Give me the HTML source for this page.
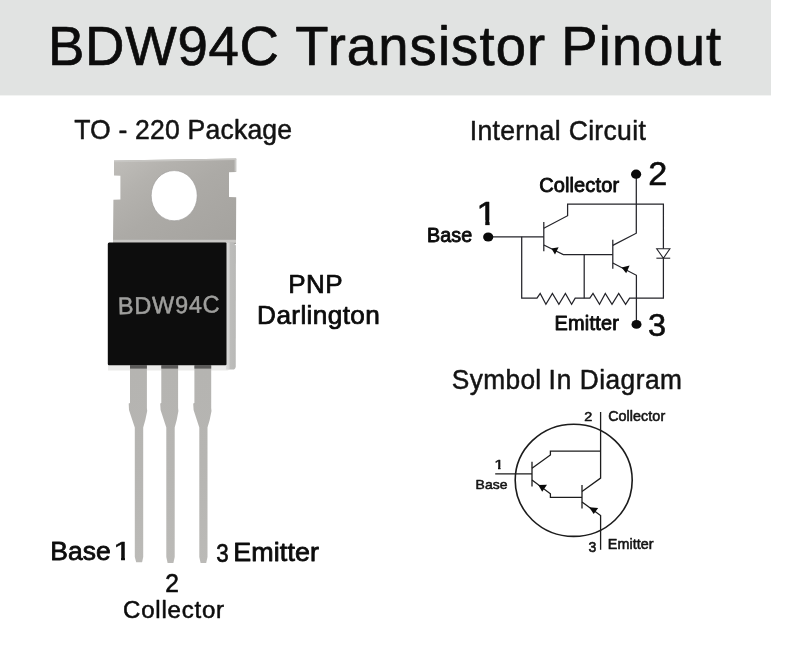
<!DOCTYPE html>
<html lang="en">
<head>
<meta charset="utf-8">
<title>BDW94C Transistor Pinout</title>
<style>
html,body{margin:0;padding:0;background:#ffffff;}
body{width:800px;height:663px;overflow:hidden;font-family:"Liberation Sans",Arial,Helvetica,sans-serif;}
svg{display:block;}
svg text{font-family:"Liberation Sans",Arial,Helvetica,sans-serif;}
</style>
</head>
<body>
<svg width="800" height="663" viewBox="0 0 800 663">
<defs>
<linearGradient id="metal" x1="0" y1="0" x2="1" y2="1">
<stop offset="0" stop-color="#c0beba"/>
<stop offset="0.25" stop-color="#b4b2ae"/>
<stop offset="0.5" stop-color="#acaaa6"/>
<stop offset="1" stop-color="#a4a29e"/>
</linearGradient>
<linearGradient id="pin" x1="0" y1="0" x2="0" y2="1">
<stop offset="0" stop-color="#b5b4b1"/>
<stop offset="0.5" stop-color="#b6b5b2"/>
<stop offset="1" stop-color="#bbbab7"/>
</linearGradient>
<linearGradient id="strip" x1="0" y1="0" x2="1" y2="0">
<stop offset="0" stop-color="#dcdcdb"/>
<stop offset="0.3" stop-color="#d2d2d1"/>
<stop offset="0.42" stop-color="#bdbdbb"/>
<stop offset="0.9" stop-color="#b9b9b7"/>
<stop offset="1" stop-color="#c4c4c2"/>
</linearGradient>
</defs>
<rect x="0" y="0" width="800" height="663" fill="#ffffff"/>
<rect id="header" x="0" y="0" width="771" height="95.4" fill="#e1e3e2"/>

<g id="package">
<!-- metal tab -->
<path d="M114 160.6 L236.2 158.5 L236.2 171.9 L229 172.3 L229 196.9 L236.2 197.3 L236 244 L113 244 L113.4 199.8 L120.4 199.4 L120.4 175.7 L114 175.4 Z" fill="url(#metal)"/>
<path d="M114 160.6 L236.2 158.5 L236.2 160.1 L114 162.2 Z" fill="#c6c5c2"/>
<rect x="113" y="239.8" width="123" height="3" fill="#c9c8c5"/>
<rect x="234.6" y="159" width="1.6" height="12.6" fill="#c9c8c5"/>
<ellipse cx="174.2" cy="195.7" rx="23" ry="25.1" fill="#ffffff" stroke="#979693" stroke-width="0.6"/>
<!-- back plate: right strip and bottom strip -->
<path d="M108 362 H230 V368 Q230 370.4 227.6 370.4 H108 Z" fill="#ebebea"/>
<path d="M226 242.4 L233 242.4 L236 245.4 L235.8 366.4 Q235.6 369.4 232.6 369.6 L226 369.6 Z" fill="url(#strip)"/>
<!-- body -->
<path d="M109.2 242.4 H225.4 Q226.5 242.4 226.5 243.6 V364 Q226.5 365.2 225.4 365.2 H109 Q107.8 365.2 107.8 364 V244 Q107.8 242.4 109.2 242.4 Z" fill="#0d0d0d"/>
<!-- pins -->
<path d="M130 365.6 L146.9 365.6 L146.9 408 L147.2 411 Q145.6 420 143.2 427.5 L143.2 557 L142.1 562.2 L136.2 562.2 L134.8 557 L134.8 427.5 Q131.6 418 129 410 L128.7 403.5 L130 403 Z" fill="url(#pin)"/>
<path d="M161.3 365.6 L178.1 365.6 L178.1 408 L178.4 411 Q177 420 174.7 427.5 L174.7 557 L173.4 563 L167.6 563 L166.3 557 L166.3 427.5 Q163.2 418 160.6 410 L160.2 403.5 L161.3 403 Z" fill="url(#pin)"/>
<path d="M194.4 365.6 L211.2 365.6 L211.2 408 L211.5 411 Q210 420 207.5 427.5 L207.5 557 L206.2 563 L200.6 563 L199.3 557 L199.3 427.5 Q196.2 418 193.6 410 L193.2 403.5 L194.4 403 Z" fill="url(#pin)"/>
<!-- pin root shadows -->
<rect x="130" y="365" width="16.9" height="3.6" fill="#5c5b5a"/>
<rect x="161.3" y="365" width="16.8" height="3.6" fill="#5c5b5a"/>
<rect x="194.4" y="365" width="16.8" height="3.6" fill="#5c5b5a"/>
</g>

<g id="circuit" fill="none" stroke="#24242a" stroke-width="1.25" stroke-linejoin="miter">
<path d="M488 236.8 H543.8"/>
<path d="M521.7 236.8 V298.2 H537 L540.2 293.4 L545.9 304.3 L552.4 293.4 L558.9 304.3 L565.4 293.4 L571.6 304.3 L575.2 298.2 H589.8 L593 293.4 L599.5 304.3 L605.3 293.4 L612 304.3 L618.7 293.4 L625.6 304.3 L629.6 298.2 H663.4 V258.2"/>
<path d="M663.4 248.7 V204.2 H567.6 V215.7 L543.8 228.2"/>
<path d="M543.8 222 V251.3"/>
<path d="M543.8 245 L563.3 254.6 H612.8"/>
<path d="M584.2 254.6 V298.2"/>
<path d="M612.8 239.7 V268.8"/>
<path d="M612.8 245.4 L636.3 233.2 V174"/>
<path d="M612.8 263 L636.4 275.3 V324"/>
<!-- diode -->
<path d="M656.7 248.7 H669.9 L663.4 258.2 Z" stroke-width="1.1"/>
<path d="M656.4 258.2 H670.2" stroke-width="1.1"/>
</g>
<g id="circuit-fill" fill="#0a0a0a">
<ellipse cx="488.2" cy="237" rx="5.1" ry="4.5"/>
<ellipse cx="636.1" cy="174.2" rx="5.1" ry="4.6"/>
<ellipse cx="636.5" cy="324.4" rx="5" ry="4.4"/>
<path d="M551.4 248.6 L558.6 247.2 L555 254.6 Z"/>
<path d="M621.6 267.6 L629.6 265.4 L626.2 273.2 Z"/>
</g>

<g id="symbol" fill="none" stroke="#1c1c1c" stroke-width="1.3">
<ellipse cx="573.7" cy="480.3" rx="58.5" ry="56.1" stroke-width="1.6"/>
<path d="M495.2 473.9 H532"/>
<path d="M532 461.8 V486.4"/>
<path d="M532 468.2 L550.4 455 V451.1 H600.6"/>
<path d="M600.6 412 V478.1 L582 491.5"/>
<path d="M582 485 V508.6"/>
<path d="M532 480 L550.4 493.8 V497.3 H582"/>
<path d="M582 501.9 L600.6 515.6 V549.8"/>
</g>
<g id="symbol-fill" fill="#0a0a0a">
<path d="M538.3 485 L547 484.7 L542.2 491.7 Z"/>
<path d="M589.2 507.3 L598.2 508 L593.7 514 Z"/>
</g>

<g id="labels" style="will-change:opacity;opacity:0.999">
<defs><clipPath id="clip-b1"><rect x="85.93" y="534.40" width="26.00" height="22.60"/><rect x="93.11" y="556.50" width="3.01" height="4.60"/></clipPath><clipPath id="clip-c1"><rect x="413.22" y="192.20" width="32.60" height="27.80"/><rect x="421.98" y="219.50" width="3.75" height="6.08"/></clipPath><clipPath id="clip-s1"><rect x="394.38" y="455.90" width="13.60" height="11.10"/><rect x="398.39" y="466.50" width="2.01" height="3.75"/></clipPath></defs>
<g id="t-title" font-weight="normal" fill="#0c0c0c" stroke="#0c0c0c" stroke-width="0.7" stroke-linejoin="round"><text transform="scale(0.9750 1)" x="49.28" y="64.70" font-size="56.00" letter-spacing="0.692">BDW94C</text><text transform="scale(0.9750 1)" x="302.90" y="64.70" font-size="55.80" letter-spacing="1.142">Transistor</text><text transform="scale(0.9750 1)" x="575.76" y="64.70" font-size="55.80" letter-spacing="1.147">Pinout</text></g>
<g id="t-pkg" font-weight="normal" fill="#141414" stroke="#141414" stroke-width="0.5" stroke-linejoin="round"><text transform="scale(0.9850 1)" x="75.28" y="139.00" font-size="27.00" letter-spacing="0.186">TO - 220 Package</text></g>
<g id="t-ic" font-weight="normal" fill="#141414" stroke="#141414" stroke-width="0.5" stroke-linejoin="round"><text transform="scale(0.9850 1)" x="476.94" y="139.60" font-size="27.00" letter-spacing="0.317">Internal Circuit</text></g>
<g id="t-sym" font-weight="normal" fill="#141414" stroke="#141414" stroke-width="0.5" stroke-linejoin="round"><text transform="scale(0.9850 1)" x="458.75" y="389.40" font-size="26.70" letter-spacing="0.335">Symbol</text><text transform="scale(0.9850 1)" x="556.97" y="389.40" font-size="26.70" letter-spacing="0.929">In</text><text transform="scale(0.9850 1)" x="588.51" y="389.40" font-size="26.70" letter-spacing="0.479">Diagram</text></g>
<g id="t-pnp" font-weight="normal" fill="#0c0c0c" stroke="#0c0c0c" stroke-width="0.7" stroke-linejoin="round"><text transform="scale(1.0418 1)" x="276.64" y="293.00" font-size="25.00" letter-spacing="0.413">PNP</text></g>
<g id="t-darl" font-weight="normal" fill="#0c0c0c" stroke="#0c0c0c" stroke-width="0.75" stroke-linejoin="round"><text transform="scale(1.0308 1)" x="249.43" y="323.80" font-size="25.40" letter-spacing="0.372">Darlington</text></g>
<g id="t-body" font-weight="normal" fill="#a0a09e" stroke="#a0a09e" stroke-width="0.5" stroke-linejoin="round" transform="rotate(-1.0 169.5 313.3)"><text transform="scale(0.9700 1)" x="121.77" y="313.30" font-size="24.20" letter-spacing="0.808">BDW94C</text></g>
<g id="t-bBase" font-weight="normal" fill="#0c0c0c" stroke="#0c0c0c" stroke-width="0.8" stroke-linejoin="round"><text transform="scale(1.0177 1)" x="49.35" y="560.40" font-size="26.00" letter-spacing="0.081">Base</text></g>
<g id="t-b1" font-weight="normal" fill="#0c0c0c" stroke="#0c0c0c" stroke-width="0.4" stroke-linejoin="round"><text transform="scale(1.3000 1)" x="86.93" y="560.40" font-size="26.00" clip-path="url(#clip-b1)">1</text></g>
<g id="t-b3" font-weight="normal" fill="#0c0c0c" stroke="#0c0c0c" stroke-width="0.7" stroke-linejoin="round"><text transform="scale(0.8412 1)" x="257.13" y="561.60" font-size="26.60">3</text></g>
<g id="t-bEmit" font-weight="normal" fill="#0c0c0c" stroke="#0c0c0c" stroke-width="0.8" stroke-linejoin="round"><text transform="scale(1.0346 1)" x="225.39" y="560.70" font-size="26.00" letter-spacing="0.111">Emitter</text></g>
<g id="t-b2" font-weight="normal" fill="#0c0c0c" stroke="#0c0c0c" stroke-width="0.6" stroke-linejoin="round"><text transform="scale(0.9442 1)" x="175.05" y="591.70" font-size="26.00">2</text></g>
<g id="t-bColl" font-weight="normal" fill="#0c0c0c" stroke="#0c0c0c" stroke-width="0.55" stroke-linejoin="round"><text transform="scale(0.9700 1)" x="126.85" y="618.10" font-size="24.80" letter-spacing="0.795">Collector</text></g>
<g id="t-cBase" font-weight="normal" fill="#0c0c0c" stroke="#0c0c0c" stroke-width="0.85" stroke-linejoin="round"><text transform="scale(1.0080 1)" x="423.62" y="241.90" font-size="19.60" letter-spacing="0.074">Base</text></g>
<g id="t-c1" font-weight="normal" fill="#0c0c0c" stroke="#0c0c0c" stroke-width="0.55" stroke-linejoin="round"><text transform="scale(1.1500 1)" x="414.22" y="224.80" font-size="32.60" clip-path="url(#clip-c1)">1</text></g>
<g id="t-cColl" font-weight="normal" fill="#0c0c0c" stroke="#0c0c0c" stroke-width="0.85" stroke-linejoin="round"><text transform="scale(1.0170 1)" x="530.19" y="192.50" font-size="19.70" letter-spacing="0.106">Collector</text></g>
<g id="t-c2" font-weight="normal" fill="#0c0c0c" stroke="#0c0c0c" stroke-width="0.6" stroke-linejoin="round"><text transform="scale(1.0553 1)" x="614.22" y="185.30" font-size="32.40">2</text></g>
<g id="t-cEmit" font-weight="normal" fill="#0c0c0c" stroke="#0c0c0c" stroke-width="0.85" stroke-linejoin="round"><text transform="scale(1.0329 1)" x="536.81" y="329.80" font-size="19.30" letter-spacing="0.210">Emitter</text></g>
<g id="t-c3" font-weight="normal" fill="#0c0c0c" stroke="#0c0c0c" stroke-width="0.6" stroke-linejoin="round"><text transform="scale(1.0095 1)" x="642.03" y="336.40" font-size="32.20">3</text></g>
<g id="t-s2" font-weight="normal" fill="#141414" stroke="#141414" stroke-width="0.6" stroke-linejoin="round"><text transform="scale(1.0500 1)" x="556.55" y="421.30" font-size="13.70">2</text></g>
<g id="t-sColl" font-weight="normal" fill="#141414" stroke="#141414" stroke-width="0.55" stroke-linejoin="round"><text transform="scale(1.0404 1)" x="584.55" y="421.50" font-size="13.80" letter-spacing="0.046">Collector</text></g>
<g id="t-s1" font-weight="normal" fill="#141414" stroke="#141414" stroke-width="0.5" stroke-linejoin="round"><text transform="scale(1.2500 1)" x="395.38" y="469.50" font-size="13.60" clip-path="url(#clip-s1)">1</text></g>
<g id="t-sBase" font-weight="normal" fill="#141414" stroke="#141414" stroke-width="0.55" stroke-linejoin="round"><text transform="scale(1.0579 1)" x="449.48" y="488.90" font-size="13.20" letter-spacing="0.092">Base</text></g>
<g id="t-s3" font-weight="normal" fill="#141414" stroke="#141414" stroke-width="0.6" stroke-linejoin="round"><text transform="scale(0.9800 1)" x="600.57" y="552.00" font-size="14.30">3</text></g>
<g id="t-sEmit" font-weight="normal" fill="#141414" stroke="#141414" stroke-width="0.55" stroke-linejoin="round"><text transform="scale(1.0405 1)" x="584.12" y="549.00" font-size="13.80" letter-spacing="0.048">Emitter</text></g>
</g>
</svg>
</body>
</html>
